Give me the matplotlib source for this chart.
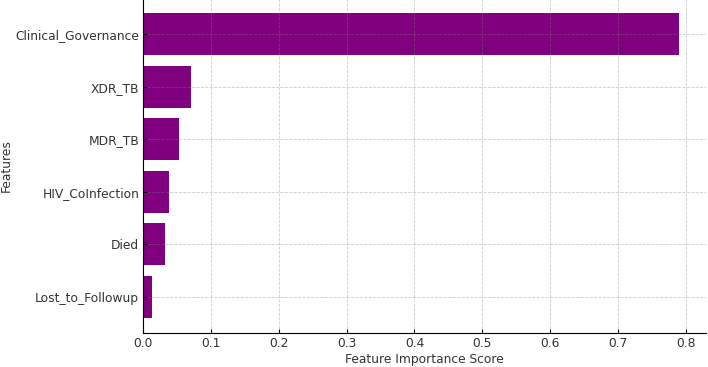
from matplotlib import pyplot as plt

features = ["Clinical_Governance", "XDR_TB", "MDR_TB", "HIV_CoInfection", "Died", "Lost_to_Followup"]
scores = [0.790, 0.071, 0.053, 0.038, 0.032, 0.013]

fig = plt.figure(figsize=(7.08, 3.67), dpi=100)
# axes top runs slightly past the figure edge, as in the reference
ax = fig.add_axes([0.2025, 0.0926, 0.794, 0.913])
ax.barh(features[::-1], scores[::-1], color="purple")
ax.set_xlabel("Feature Importance Score", fontsize=8.8, color="#333333", labelpad=2)
ax.set_ylabel("Features", fontsize=8.8, color="#333333")
ax.yaxis.set_label_coords(-0.232, 0.5)
ax.grid(True, linestyle="--", color="gray", alpha=0.4, linewidth=0.6)
ax.spines["top"].set_visible(False)
ax.spines["right"].set_visible(False)
ax.tick_params(direction="in", labelsize=8.8, length=3, pad=3, labelcolor="#333333")
ax.set_xticks([0.0, 0.1, 0.2, 0.3, 0.4, 0.5, 0.6, 0.7, 0.8])
fig.savefig("out.png")
